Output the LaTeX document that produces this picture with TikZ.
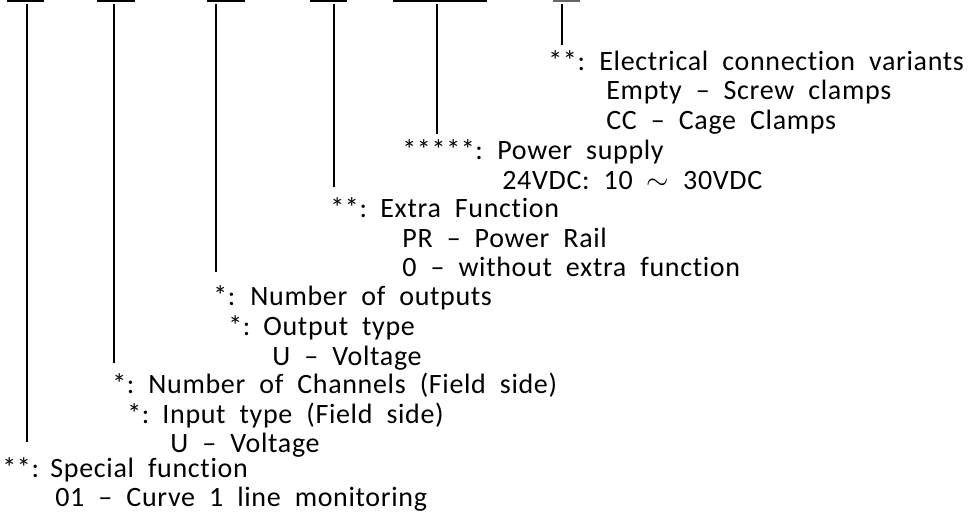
\documentclass[tikz,border=0pt]{standalone}
\usepackage{fontspec}
\setmainfont{Carlito}[WordSpace=2, LetterSpace=2.4, Ligatures={TeX,NoCommon}]
% stars and colon of a code field, in a box of fixed width
\newcommand\keyfield[2]{\makebox[#1][l]{#2:}}
\begin{document}
\begin{tikzpicture}[x=0.5pt, y=-0.5pt, every node/.style={anchor=base west, inner sep=0pt, font=\fontsize{14}{16}\selectfont}, bar/.style={line width=1.3pt}, lead/.style={line width=0.7pt}]
    \useasboundingbox (0,0) rectangle (979,519);

    % Bars of the code fields
    \draw[bar] (7,1) -- (44,1);
    \draw[bar] (97,1) -- (135,1);
    \draw[bar] (207,1) -- (245,1);
    \draw[bar] (310,1) -- (347,1);
    \draw[bar] (393,1) -- (487,1);
    \draw[bar, black!60] (553,1) -- (580,1);

    % Electrical connection
    \node (elec) at (548,71) {\keyfield{25.5pt}{**}Electrical connection variants};
    \node (elec1) at (606,100) {Empty -- Screw clamps};
    \node (elec2) at (606,129) {CC -- Cage Clamps};

    % Power supply
    \node (pow) at (402,159) {\keyfield{47.5pt}{*****}Power supply};
    \node (pow1) at (502,189) {24VDC: 10 $\sim$ 30VDC};

    % Extra function
    \node (ext) at (330,217) {\keyfield{25pt}{**}Extra Function};
    \node (ext1) at (402,247) {PR -- Power Rail};
    \node (ext2) at (402,276) {0 -- without extra function};

    % Outputs
    \node (out) at (213,305) {\keyfield{18.5pt}{*}Number of outputs};
    \node (out1) at (228,335) {\keyfield{17.5pt}{*}Output type};
    \node (out2) at (272,365) {U -- Voltage};

    % Channels
    \node (chn) at (112,393) {\keyfield{18pt}{*}Number of Channels (Field side)};
    \node (chn1) at (127,423) {\keyfield{17.5pt}{*}Input type (Field side)};
    \node (chn2) at (170,452) {U -- Voltage};

    % Special function
    \node (spc) at (2,477) {\keyfield{24pt}{**}Special function};
    \node (spc1) at (55,506) {01 -- Curve 1 line monitoring};

    % Leader lines
    \coordinate (t1) at (27,4);   \coordinate (e1) at (27,442);
    \coordinate (t2) at (114,4);  \coordinate (e2) at (114,363);
    \coordinate (t3) at (216,4);  \coordinate (e3) at (216,272);
    \coordinate (t4) at (334,4);  \coordinate (e4) at (334,187);
    \coordinate (t5) at (437,4);  \coordinate (e5) at (437,134);
    \coordinate (t6) at (562,4);  \coordinate (e6) at (562,45);
    \draw[lead] (t1) -- (e1);
    \draw[lead] (t2) -- (e2);
    \draw[lead] (t3) -- (e3);
    \draw[lead] (t4) -- (e4);
    \draw[lead] (t5) -- (e5);
    \draw[lead] (t6) -- (e6);
\end{tikzpicture}
\end{document}
